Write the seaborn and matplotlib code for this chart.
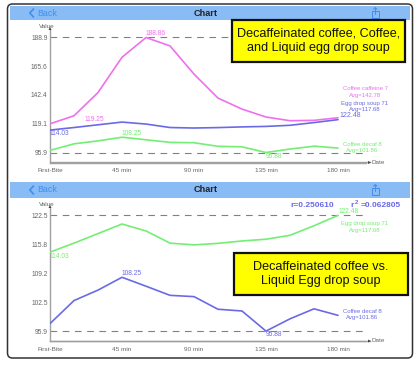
import pandas as pd
import matplotlib
matplotlib.use("Agg")
import matplotlib.pyplot as plt
from matplotlib.lines import Line2D
from matplotlib.patches import FancyBboxPatch, Rectangle
import seaborn as sns

# ── Data ─────────────────────────────────────────────────────────────────
MINUTES = [0, 15, 30, 45, 60, 75, 90, 105, 120, 135, 150, 165, 180]
CAFFEINE = [119.1, 125.6, 144.4, 172.9, 188.86, 182.1, 159.3, 139.9, 131.0, 124.6, 121.6, 121.9, 124.0]
EGG_SOUP = [114.03, 116.1, 118.3, 120.5, 118.9, 116.1, 115.7, 116.05, 116.6, 117.0, 117.9, 120.1, 122.48]
DECAF = [97.6, 102.9, 105.3, 108.25, 106.2, 104.1, 103.8, 100.9, 100.5, 95.88, 98.7, 101.0, 99.5]

X_TICKS = [0, 45, 90, 135, 180]
X_LABELS = ["First-Bite", "45 min", "90 min", "135 min", "180 min"]
TOP_TICKS = [95.9, 119.1, 142.4, 165.6, 188.9]
BOTTOM_TICKS = [95.9, 102.5, 109.2, 115.8, 122.5]

MAGENTA = "#ee70ee"
BLUE = "#6a6ae6"
GREEN = "#74ee74"
GREY = "#666666"
HEADER = "#89bbf5"
IOS_BLUE = "#3f8ff0"

W, H = 415, 367
FONT = "Liberation Sans"

sns.set_theme(style="white")
plt.rcParams["font.family"] = FONT


def make_axes(fig, y_low, y_high, px_low, px_high, px_bottom, px_top):
    # y_low / y_high sit at pixel rows px_low / px_high, the spine goes further
    per_unit = (px_low - px_high) / (y_high - y_low)
    ymin = y_low - (px_bottom - px_low) / per_unit
    ymax = y_high + (px_high - px_top) / per_unit
    x0, x1 = 50, 370
    ax = fig.add_axes([x0 / W, 1 - px_bottom / H, (x1 - x0) / W, (px_bottom - px_top) / H])
    ax.set_xlim(0, (x1 - x0) / 1.6)
    ax.set_ylim(ymin, ymax)
    ax.patch.set_visible(False)
    return ax


def style_axes(ax, y_ticks):
    ax.hlines([y_ticks[0], y_ticks[-1]], 0, 195.5, color="#808080", lw=0.8,
              linestyles=(0, (6, 5)), zorder=1)
    ax.set_xticks(X_TICKS)
    ax.set_xticklabels(X_LABELS)
    ax.set_yticks(y_ticks)
    ax.set_yticklabels([f"{v:.1f}" for v in y_ticks])
    ax.tick_params(axis="x", direction="inout", length=3, width=0.6, color="#888888",
                   labelsize=4.6, labelcolor=GREY, pad=2.5)
    ax.tick_params(axis="y", direction="inout", length=3, width=0.6, color="#888888",
                   labelsize=4.8, labelcolor=GREY, pad=0.2)
    sns.despine(ax=ax)
    for side in ("left", "bottom"):
        ax.spines[side].set_color("#a0a0a0")
        ax.spines[side].set_linewidth(1.0)


def draw_lines(ax, series):
    df = pd.concat([pd.DataFrame({"minute": MINUTES, "value": vals, "series": name})
                    for name, vals, _ in series])
    palette = {name: color for name, _, color in series}
    sns.lineplot(data=df, x="minute", y="value", hue="series", palette=palette,
                 linewidth=1.2, legend=False, ax=ax, zorder=3)
    ax.set_xlabel("")
    ax.set_ylabel("")


def header(ov, y0, y1):
    ov.add_patch(Rectangle((10, y0), 400, y1 - y0, color=HEADER, lw=0))
    mid = (y0 + y1) / 2
    ov.add_line(Line2D([33.5, 29.8, 33.5], [mid - 4, mid, mid + 4], color=IOS_BLUE, lw=1.2))
    ov.text(37, mid, "Back", fontsize=6.4, color=IOS_BLUE, va="center", ha="left")
    ov.text(206, mid, "Chart", fontsize=6.6, color="#222222", va="center", ha="center",
            fontweight="bold")
    # share icon
    ov.add_patch(Rectangle((372, mid - 2), 6.5, 6.5, fill=False, ec=IOS_BLUE, lw=0.7))
    ov.add_line(Line2D([375.2, 375.2], [mid + 1, mid - 5.5], color=IOS_BLUE, lw=0.7))
    ov.add_line(Line2D([373.5, 375.2, 377], [mid - 3.8, mid - 5.5, mid - 3.8], color=IOS_BLUE, lw=0.7))


def yellow_box(ov, x0, y0, x1, y1, lines):
    ov.add_patch(Rectangle((x0, y0), x1 - x0, y1 - y0, fc="#ffff00", ec="#111111", lw=1.6, zorder=5))
    ov.text((x0 + x1) / 2, (y0 + y1) / 2, "\n".join(lines), fontsize=9.1, color="#111111",
            ha="center", va="center", linespacing=1.25, zorder=6)


def arrows(ov, px_bottom, px_top):
    style = dict(arrowstyle="-|>,head_width=0.09,head_length=0.18", color="#444444", lw=0)
    ov.annotate("", xy=(50, px_top - 3), xytext=(50, px_top + 1), arrowprops=style)
    ov.annotate("", xy=(371, px_bottom), xytext=(366, px_bottom), arrowprops=style)
    ov.add_line(Line2D([50, 366], [px_bottom, px_bottom], color="#a0a0a0", lw=1.0))
    ov.text(47, px_top - 4, "Value", fontsize=4.6, color=GREY, ha="center", va="center")
    ov.text(371.5, px_bottom, "Date", fontsize=4.6, color=GREY, ha="left", va="center")


def main():
    fig = plt.figure(figsize=(W / 100, H / 100), dpi=100, facecolor="white")

    # ── top panel ──
    ax1 = make_axes(fig, 95.9, 188.9, 152.5, 37.5, 162.5, 30)
    style_axes(ax1, TOP_TICKS)
    draw_lines(ax1, [("Coffee caffeine 7", CAFFEINE, MAGENTA),
                     ("Egg drop soup 71", EGG_SOUP, BLUE),
                     ("Coffee decaf 8", DECAF, GREEN)])

    # ── bottom panel ──
    ax2 = make_axes(fig, 95.9, 122.5, 331, 215.3, 341, 208)
    style_axes(ax2, BOTTOM_TICKS)
    draw_lines(ax2, [("Egg drop soup 71", EGG_SOUP, GREEN),
                     ("Coffee decaf 8", DECAF, BLUE)])

    # pixel overlay for the app chrome and the loose labels
    ov = fig.add_axes([0, 0, 1, 1], zorder=10)
    ov.set_xlim(0, W)
    ov.set_ylim(H, 0)
    ov.axis("off")

    ov.add_patch(FancyBboxPatch((7.5, 4), 405, 354, boxstyle="round,pad=0,rounding_size=5",
                                fill=False, ec="#333333", lw=1.1))
    header(ov, 6, 20)
    header(ov, 182, 198)
    arrows(ov, 162.5, 30)
    arrows(ov, 341, 208)

    def label(x, y, s, color, size=4.8, ha="left", **kw):
        ov.text(x, y, s, color=color, fontsize=size, ha=ha, va="center", **kw)

    # top panel labels
    label(146, 33.5, "188.86", MAGENTA)
    label(85, 119.7, "119.25", MAGENTA)
    label(50, 133.7, "114.03", BLUE)
    label(339, 115.7, "122.48", BLUE, size=5)
    label(122, 133.3, "108.25", GREEN)
    label(266, 156.7, "95.88", GREEN)
    label(365, 88.3, "Coffee caffeine 7", MAGENTA, size=4.3, ha="center")
    label(365, 95, "Avg=142.78", MAGENTA, size=4.3, ha="center")
    label(365, 103.3, "Egg drop soup 71", BLUE, size=4.3, ha="center")
    label(365, 109.7, "Avg=117.68", BLUE, size=4.3, ha="center")
    label(362, 144, "Coffee decaf 8", GREEN, size=4.3, ha="center")
    label(362, 150.7, "Avg=101.86", GREEN, size=4.3, ha="center")

    # bottom panel labels
    label(339, 211.7, "122.48", GREEN)
    label(50, 256, "114.03", GREEN)
    label(122, 273.3, "108.25", BLUE)
    label(266, 334.3, "95.88", BLUE)
    label(365, 224, "Egg drop soup 71", GREEN, size=4.3, ha="center")
    label(365, 230.7, "Avg=117.68", GREEN, size=4.3, ha="center")
    label(362, 311.3, "Coffee decaf 8", BLUE, size=4.3, ha="center")
    label(362, 318, "Avg=101.86", BLUE, size=4.3, ha="center")

    label(290, 205.7, "r=0.250610", BLUE, size=6, fontweight="bold")
    label(350, 205.7, "r", BLUE, size=6, fontweight="bold")
    label(354.5, 202.5, "2", BLUE, size=4.2, fontweight="bold")
    label(360.5, 205.7, "=0.062805", BLUE, size=6, fontweight="bold")

    yellow_box(ov, 231.5, 20, 405, 62, ["Decaffeinated coffee, Coffee,", "and Liquid egg drop soup"])
    yellow_box(ov, 234, 252.5, 408, 295, ["Decaffeinated coffee vs.", "Liquid Egg drop soup"])

    fig.savefig("out.png", dpi=100, facecolor="white")
    plt.close(fig)


if __name__ == "__main__":
    main()
